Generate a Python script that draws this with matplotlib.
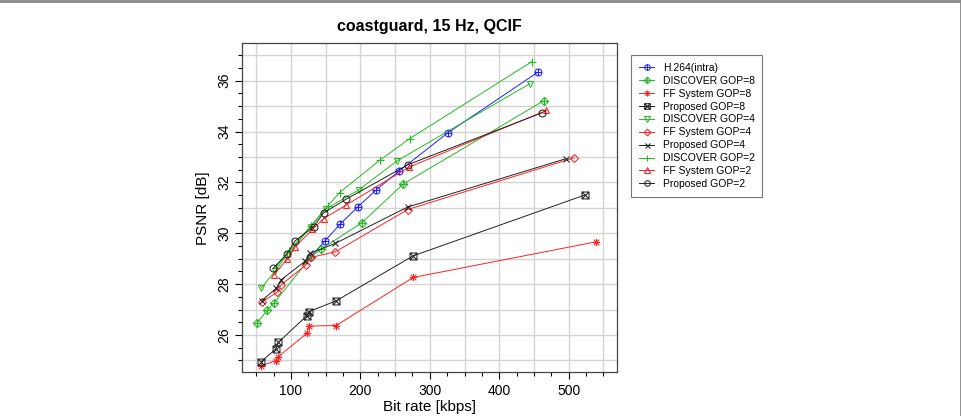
import numpy as np
import matplotlib
matplotlib.use('Agg')
import matplotlib.pyplot as plt
from matplotlib.path import Path
from matplotlib.lines import Line2D

plt.rcParams['font.family'] = ['Liberation Sans', 'DejaVu Sans']

# rate (kbps) / PSNR (dB)
h264_x = [128, 149, 171, 196, 223, 255, 326, 456]
h264_y = [29.06, 29.70, 30.36, 31.03, 31.71, 32.43, 33.95, 36.34]

disc8_x = [51, 66, 76, 129, 143, 202, 262, 464]
disc8_y = [26.46, 26.98, 27.27, 29.07, 29.37, 30.41, 31.94, 35.21]

ff8_x = [57, 78, 82, 123, 126, 165, 276, 539]
ff8_y = [24.78, 24.99, 25.15, 26.07, 26.35, 26.37, 28.26, 29.66]

prop8_x = [57, 78, 82, 123, 126, 165, 276, 524]
prop8_y = [24.95, 25.44, 25.71, 26.76, 26.92, 27.34, 29.11, 31.51]

disc4_x = [57, 77, 96, 129, 150, 198, 253, 444]
disc4_y = [27.84, 28.50, 29.20, 30.26, 30.95, 31.71, 32.85, 35.88]

ff4_x = [58, 80, 86, 121, 129, 164, 268, 508]
ff4_y = [27.29, 27.68, 27.97, 28.74, 29.05, 29.27, 30.93, 32.97]

prop4_x = [58, 79, 86, 120, 128, 164, 268, 496]
prop4_y = [27.35, 27.84, 28.17, 28.89, 29.22, 29.60, 31.03, 32.93]

disc2_x = [78, 97, 129, 153, 170, 228, 271, 447]
disc2_y = [28.65, 29.30, 30.30, 31.07, 31.60, 32.87, 33.72, 36.75]

ff2_x = [75, 95, 106, 131, 147, 179, 270, 468]
ff2_y = [28.36, 28.98, 29.46, 30.15, 30.57, 31.10, 32.60, 34.83]

prop2_x = [74.5, 94, 106, 133, 147, 179, 268, 462]
prop2_y = [28.62, 29.18, 29.70, 30.26, 30.80, 31.33, 32.69, 34.74]

labels = ['H.264(intra)', 'DISCOVER GOP=8', 'FF System GOP=8', 'Proposed GOP=8',
          'DISCOVER GOP=4', 'FF System GOP=4', 'Proposed GOP=4',
          'DISCOVER GOP=2', 'FF System GOP=2', 'Proposed GOP=2']

# R-style pch symbols 10..1
M, L = Path.MOVETO, Path.LINETO
plus = Path([[-1, 0], [1, 0], [0, -1], [0, 1]], [M, L, M, L])
cross = Path([[-0.75, -0.75], [0.75, 0.75], [-0.75, 0.75], [0.75, -0.75]], [M, L, M, L])
diamond = Path([[0, -1], [1, 0], [0, 1], [-1, 0], [0, -1]], [M, L, L, L, L])
square = Path([[-0.75, -0.75], [0.75, -0.75], [0.75, 0.75], [-0.75, 0.75], [-0.75, -0.75]],
              [M, L, L, L, L])
circle_plus = Path.make_compound_path(Path.unit_circle(), plus)
diamond_plus = Path.make_compound_path(diamond, plus)
asterisk = Path.make_compound_path(plus, cross)
square_x = Path.make_compound_path(square, cross)

blue, green, red, black = '#2020ff', '#22bb22', '#ff2020', '#222222'

series = [
    (h264_x, h264_y, blue, circle_plus),
    (disc8_x, disc8_y, green, diamond_plus),
    (ff8_x, ff8_y, red, asterisk),
    (prop8_x, prop8_y, black, square_x),
    (disc4_x, disc4_y, green, 'v'),
    (ff4_x, ff4_y, red, 'D'),
    (prop4_x, prop4_y, black, 'x'),
    (disc2_x, disc2_y, green, '+'),
    (ff2_x, ff2_y, red, '^'),
    (prop2_x, prop2_y, black, 'o'),
]
sizes = [5, 6, 5.5, 5, 5, 4.3, 4.5, 6, 5, 5]

fig = plt.figure(figsize=(9.62, 4.16), dpi=100)
ax = fig.add_axes([0.2519, 0.105, 0.3898, 0.791])

for v in np.arange(50, 570, 50):
    ax.axvline(v, color='#d4d4d4', lw=1.0, zorder=0)
for v in np.arange(25, 38, 1):
    ax.axhline(v, color='#d4d4d4', lw=1.0, zorder=0)

for (xs, ys, c, m), lab, ms in zip(series, labels, sizes):
    ax.plot(xs, ys, color=c, lw=0.7, marker=m, markersize=ms,
            markerfacecolor='none', markeredgecolor=c, markeredgewidth=0.75,
            label=lab, zorder=3)

ax.set_xlim(30, 570)
ax.set_ylim(24.53, 37.47)
ax.xaxis.set_major_locator(matplotlib.ticker.MultipleLocator(100))
ax.xaxis.set_minor_locator(matplotlib.ticker.MultipleLocator(25))
ax.yaxis.set_major_locator(matplotlib.ticker.MultipleLocator(2))
ax.yaxis.set_minor_locator(matplotlib.ticker.MultipleLocator(0.5))
ax.tick_params(which='major', length=5, width=0.8, labelsize=10, direction='out')
ax.tick_params(which='minor', length=3, width=0.8, direction='out')
ax.tick_params(axis='y', which='major', pad=3)
for t in ax.get_yticklabels():
    t.set_rotation(90)
    t.set_va('center')
for s in ax.spines.values():
    s.set_color('#444444')
    s.set_linewidth(0.9)

ax.set_xlabel('Bit rate [kbps]', fontsize=11, labelpad=1)
ax.set_ylabel('PSNR [dB]', fontsize=11, labelpad=5)
ax.set_title('coastguard, 15 Hz, QCIF', fontsize=11.5, fontweight='bold', pad=9)

leg = ax.legend(loc='upper left', bbox_to_anchor=(1.037, 0.9635), borderaxespad=0,
                fontsize=7.5, frameon=True, fancybox=False, edgecolor='#555555',
                handlelength=1.5, labelspacing=0.28, borderpad=0.72, handletextpad=0.8,
                markerscale=0.8)
leg.get_frame().set_linewidth(0.8)

fig.add_artist(Line2D([0, 1], [0.998, 0.998], transform=fig.transFigure, color='#888888', lw=2))
fig.add_artist(Line2D([0.999, 0.999], [0, 1], transform=fig.transFigure, color='#888888', lw=2))

fig.savefig('out.png', dpi=100)
